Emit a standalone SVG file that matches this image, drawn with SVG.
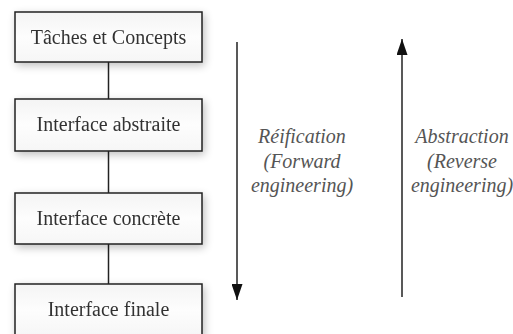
<svg xmlns="http://www.w3.org/2000/svg" width="513" height="334" viewBox="0 0 513 334">
<style>
.box{fill:url(#g);stroke:#222;stroke-width:1.5}
.lbl{font-family:"Liberation Serif","Times New Roman",serif;font-size:20px;fill:#333;text-anchor:middle}
.it{font-family:"Liberation Serif","Times New Roman",serif;font-size:20px;font-style:italic;fill:#555;text-anchor:middle}
.ln{stroke:#222;stroke-width:1.5;fill:none}
</style>
<defs>
<linearGradient id="g" x1="0" y1="0" x2="0" y2="1">
<stop offset="0" stop-color="#f4f4f4"/>
<stop offset="0.5" stop-color="#fdfdfd"/>
<stop offset="1" stop-color="#f6f6f6"/>
</linearGradient>
<filter id="sh" x="-20%" y="-30%" width="140%" height="160%">
<feGaussianBlur in="SourceAlpha" stdDeviation="4"/>
<feOffset dx="2" dy="3"/>
<feComponentTransfer><feFuncA type="linear" slope="0.25"/></feComponentTransfer>
<feMerge><feMergeNode/><feMergeNode in="SourceGraphic"/></feMerge>
</filter>
<marker id="ah" viewBox="0 0 16 11" refX="16" refY="5.5" markerWidth="16" markerHeight="11" markerUnits="userSpaceOnUse" orient="auto">
<path d="M0,0 L16,5.5 L0,11 z" fill="#111"/>
</marker>
</defs>
<rect width="513" height="334" fill="#fff"/>
<g id="connectors">
<line class="ln" x1="108.5" y1="62" x2="108.5" y2="99"/>
<line class="ln" x1="108.5" y1="151" x2="108.5" y2="193"/>
<line class="ln" x1="108.5" y1="244" x2="108.5" y2="284"/>
<line class="ln" x1="237" y1="42" x2="237" y2="300" marker-end="url(#ah)" stroke-width="1.8"/>
<line class="ln" x1="402" y1="297" x2="402" y2="39" marker-end="url(#ah)" stroke-width="1.8"/>
</g>
<g id="n1" filter="url(#sh)"><rect class="box" x="15" y="12" width="187" height="50"/><text class="lbl" x="108.5" y="44">Tâches et Concepts</text></g>
<g id="n2" filter="url(#sh)"><rect class="box" x="15" y="99" width="187" height="52"/><text class="lbl" x="108.5" y="131">Interface abstraite</text></g>
<g id="n3" filter="url(#sh)"><rect class="box" x="15" y="193" width="187" height="51"/><text class="lbl" x="108.5" y="225">Interface concrète</text></g>
<g id="n4" filter="url(#sh)"><rect class="box" x="15" y="284" width="187" height="52"/><text class="lbl" x="108.5" y="316">Interface finale</text></g>
<g id="labels">
<text class="it" x="302" y="143">Réification</text>
<text class="it" x="302" y="168">(Forward</text>
<text class="it" x="302" y="192">engineering)</text>
<text class="it" x="462" y="143">Abstraction</text>
<text class="it" x="462" y="168">(Reverse</text>
<text class="it" x="462" y="192">engineering)</text>
</g>
</svg>
